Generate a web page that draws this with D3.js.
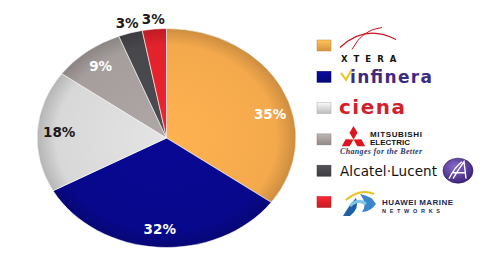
<!DOCTYPE html>
<html><head><meta charset="utf-8">
<script src="https://cdn.jsdelivr.net/npm/d3@7"></script>
<style>body{margin:0;background:#fff;}svg{display:block;}</style>
</head><body>
<svg id="chart" width="490" height="268"></svg>
<script>
const vendors = ["Xtera", "Infinera", "Ciena", "Mitsubishi Electric", "Alcatel-Lucent", "Huawei Marine"];
const shares = [35, 32, 18, 9, 3, 3];
const labels = ["35%", "32%", "18%", "9%", "3%", "3%"];
const colors = ["#F4A94C", "#08088C", "#D8D8D8", "#A59E9C", "#48484C", "#E2222C"];
const labelColors = ["#fff", "#fff", "#1a1a1a", "#fff", "#1a1a1a", "#1a1a1a"];

const svg = d3.select("#chart");
const defs = svg.append("defs");
const cx = 166.5, cy = 138, rx = 129.5, ry = 109.5, k = ry / rx;

colors.forEach((c, i) => {
  const g = defs.append("radialGradient").attr("id", "g" + i)
    .attr("gradientUnits", "userSpaceOnUse").attr("cx", 0).attr("cy", 0).attr("r", rx);
  g.append("stop").attr("offset", "0%").attr("stop-color", d3.color(c).brighter(0.15));
  g.append("stop").attr("offset", "85%").attr("stop-color", c);
  g.append("stop").attr("offset", "100%").attr("stop-color", d3.color(c).darker(0.5));
  const s = defs.append("linearGradient").attr("id", "s" + i).attr("x1", 0).attr("y1", 0).attr("x2", 0).attr("y2", 1);
  s.append("stop").attr("offset", "0%").attr("stop-color", d3.color(c).brighter(0.4));
  s.append("stop").attr("offset", "100%").attr("stop-color", d3.color(c).darker(0.4));
});

const pie = d3.pie().sort(null).value(d => d)(shares);
const arc = d3.arc().innerRadius(0).outerRadius(rx);
const pg = svg.append("g").attr("transform", `translate(${cx},${cy}) scale(1,${k})`);
pg.selectAll("path").data(pie).join("path")
  .attr("d", arc)
  .attr("fill", (d, i) => `url(#g${i})`)
  .attr("stroke", "rgba(255,255,255,0.6)")
  .attr("stroke-width", 1)
  .attr("vector-effect", "non-scaling-stroke");

const lg = svg.append("g").attr("transform", `translate(${cx},${cy})`);
pie.forEach((d, i) => {
  const r = shares[i] < 5 ? rx * 1.09 : rx * 0.83;
  // nudge large-slice labels toward the slice's far side as in the original
  const shift = shares[i] > 33 ? 0.2 : 0;
  const la = d3.arc().innerRadius(r).outerRadius(r);
  const [x, y] = la.centroid({startAngle: d.startAngle + shift, endAngle: d.endAngle + shift});
  lg.append("text").attr("x", x).attr("y", y * k)
    .attr("text-anchor", "middle").attr("dominant-baseline", "central")
    .attr("font-family", "DejaVu Sans, Verdana, sans-serif").attr("font-weight", "bold")
    .attr("font-size", 13.5).attr("fill", labelColors[i])
    .text(labels[i]);
});

const legY = d3.scaleLinear().domain([0, vendors.length - 1]).range([45.5, 202]);
const leg = svg.append("g");
vendors.forEach((v, i) => {
  leg.append("rect").attr("x", 317).attr("y", legY(i) - 5.5).attr("width", 14).attr("height", 11)
    .attr("fill", `url(#s${i})`).attr("stroke", d3.color(colors[i]).darker(0.6)).attr("stroke-width", 0.5);
});

// Xtera logo
const y0 = legY(0);
leg.append("path").attr("d", `M340,${y0+2} Q365,${y0-22} 396,${y0-6}`).attr("fill", "none").attr("stroke", "#C8141E").attr("stroke-width", 1.2);
leg.append("path").attr("d", `M352,${y0+4} Q362,${y0-16} 382,${y0-18}`).attr("fill", "none").attr("stroke", "#C8141E").attr("stroke-width", 1);
leg.append("text").attr("x", 341).attr("y", y0 + 16).attr("font-family", "DejaVu Sans, sans-serif")
  .attr("font-weight", "bold").attr("font-size", 8.5).attr("letter-spacing", 6).attr("fill", "#111").text("XTERA");

// Infinera logo
const y1 = legY(1);
leg.append("path").attr("d", `M341,${y1-4} L346,${y1+3} L351,${y1-6}`).attr("fill", "none").attr("stroke", "#E8C81E").attr("stroke-width", 2);
leg.append("text").attr("x", 350).attr("y", y1 + 6).attr("font-family", "DejaVu Sans, sans-serif")
  .attr("font-weight", "bold").attr("font-size", 17).attr("textLength", 82).attr("fill", "#3E2A80").text("infinera");

// Ciena logo
const y2 = legY(2);
leg.append("text").attr("x", 339).attr("y", y2 + 6).attr("font-family", "DejaVu Sans, sans-serif")
  .attr("font-weight", "bold").attr("font-size", 20).attr("textLength", 66).attr("fill", "#D2202A").text("ciena");

// Mitsubishi logo: three diamonds meeting at a point
const y3 = legY(3);
const L = 13.5, W = 4;
[0, 120, 240].forEach(a => {
  leg.append("path").attr("d", `M0,0 L${W},${-L/2} L0,${-L} L${-W},${-L/2} Z`)
    .attr("transform", `translate(353.5,${y3}) rotate(${a})`).attr("fill", "#E0141E");
});
leg.append("text").attr("x", 370).attr("y", y3 - 2).attr("font-family", "Liberation Sans, Arial, sans-serif")
  .attr("font-weight", "bold").attr("font-size", 8).attr("textLength", 52).attr("fill", "#111").text("MITSUBISHI");
leg.append("text").attr("x", 370).attr("y", y3 + 6).attr("font-family", "Liberation Sans, Arial, sans-serif")
  .attr("font-weight", "bold").attr("font-size", 8).attr("textLength", 40).attr("fill", "#111").text("ELECTRIC");
leg.append("text").attr("x", 340).attr("y", y3 + 14.5).attr("font-family", "Liberation Serif, serif")
  .attr("font-style", "italic").attr("font-weight", "bold").attr("font-size", 8).attr("textLength", 82).attr("fill", "#2B3A6E").text("Changes for the Better");

// Alcatel-Lucent logo
const y4 = legY(4);
leg.append("text").attr("x", 340).attr("y", y4 + 5).attr("font-family", "DejaVu Sans, sans-serif")
  .attr("font-size", 13.5).attr("textLength", 97).attr("fill", "#111").text("Alcatel·Lucent");
const ag = defs.append("radialGradient").attr("id", "alu").attr("cx", "40%").attr("cy", "35%").attr("r", "70%");
ag.append("stop").attr("offset", "0%").attr("stop-color", "#8A6CC8");
ag.append("stop").attr("offset", "100%").attr("stop-color", "#3A1E78");
leg.append("ellipse").attr("cx", 458).attr("cy", y4).attr("rx", 15).attr("ry", 12.5).attr("fill", "url(#alu)")
  .attr("stroke", "#2a1560").attr("stroke-width", 0.6);
leg.append("path").attr("d", `M449,${y4+8} Q455,${y4-4} 462,${y4-9} M453,${y4+8} Q459,${y4-2} 464,${y4-9} L466,${y4+8} M452,${y4+2} L465,${y4+2}`)
  .attr("fill", "none").attr("stroke", "#fff").attr("stroke-width", 1.4);

// Huawei Marine logo
const y5 = legY(5);
leg.append("path").attr("d", `M343,${y5+14} Q350,${y5+2} 356,${y5-4} Q360,${y5+6} 350,${y5+14} Z`).attr("fill", "#1F5FA8");
leg.append("path").attr("d", `M360,${y5-8} Q372,${y5-6} 376,${y5+2} Q370,${y5+10} 362,${y5+10} Q368,${y5+2} 360,${y5-8} Z`).attr("fill", "#3B86C8");
leg.append("path").attr("d", `M346,${y5-2} Q360,${y5-14} 374,${y5-8}`).attr("fill", "none").attr("stroke", "#E8C21E").attr("stroke-width", 2);
leg.append("path").attr("d", `M350,${y5+4} Q358,${y5-4} 366,${y5+2}`).attr("fill", "none").attr("stroke", "#7EC3E8").attr("stroke-width", 3);
leg.append("text").attr("x", 382).attr("y", y5 + 3).attr("font-family", "Liberation Sans, Arial, sans-serif")
  .attr("font-weight", "bold").attr("font-size", 8).attr("textLength", 71).attr("fill", "#1A2A55").text("HUAWEI MARINE");
leg.append("text").attr("x", 382).attr("y", y5 + 11).attr("font-family", "Liberation Sans, Arial, sans-serif")
  .attr("font-weight", "bold").attr("font-size", 5.5).attr("textLength", 58).attr("fill", "#1A2A55").text("NETWORKS");
</script>
</body></html>
